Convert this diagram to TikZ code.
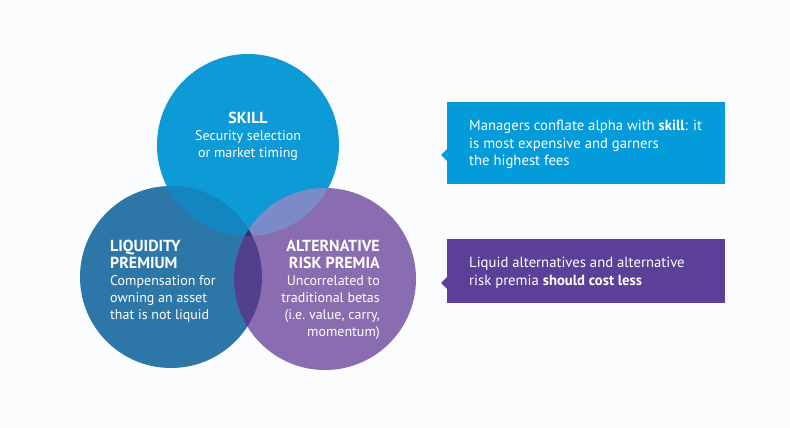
\documentclass[tikz,border=0pt]{standalone}
\usepackage{fontspec}
\setmainfont{PT Sans}
\definecolor{bgc}{HTML}{FBFCFE}
\definecolor{skillc}{HTML}{0E9AD7}
\definecolor{liqc}{HTML}{2C77A7}
\definecolor{arpc}{HTML}{8A6CB0}
\definecolor{slc}{HTML}{1386BF}
\definecolor{sac}{HTML}{7B8BC7}
\definecolor{lac}{HTML}{52408F}
\definecolor{slac}{HTML}{213E70}
\definecolor{boxa}{HTML}{039BD9}
\definecolor{boxb}{HTML}{5C3F98}
\newcommand{\hdr}[1]{{\fontsize{16}{17}\selectfont\bfseries #1}}
\begin{document}
\begin{tikzpicture}[x=1pt,y=-1pt,
  venn/.style={circle,minimum size=182pt,inner sep=0pt,outer sep=0pt},
  ctext/.style={text=white,inner sep=0pt,font=\fontsize{14}{17}\selectfont},
  callout/.style={anchor=north west,inner sep=0pt,outer sep=0pt,minimum width=278pt},
  btext/.style={text=white,inner sep=0pt,anchor=north west,align=left,font=\fontsize{14.7}{17.5}\selectfont}]
\fill[bgc] (0,0) rectangle (790,428);
\useasboundingbox (0,0) rectangle (790,428);
% circles
\node[venn,fill=skillc] (skill) at (248,145) {};
\node[venn,fill=liqc] (liq) at (171,277) {};
\node[venn,fill=arpc] (arp) at (325,279) {};
% pairwise overlaps
\begin{scope}
  \clip (248,145) circle (91);
  \fill[slc] (171,277) circle (91);
  \fill[sac] (325,279) circle (91);
\end{scope}
\begin{scope}
  \clip (171,277) circle (91);
  \fill[lac] (325,279) circle (91);
  \clip (325,279) circle (91);
  \fill[slac] (248,145) circle (91);
\end{scope}
% circle texts
\node[ctext,align=center,anchor=north] (skilltxt) at (248,112)
  {\hdr{SKILL}\\Security selection\\or market timing};
\node[ctext,align=left,anchor=north west] (liqtxt) at (110,240)
  {\hdr{LIQUIDITY}\\\hdr{PREMIUM}\\Compensation for\\owning an asset\\that is not liquid};
\node[ctext,align=right,anchor=north east] (arptxt) at (380,240)
  {\hdr{ALTERNATIVE}\\\hdr{RISK PREMIA}\\Uncorrelated to\\traditional betas\\(i.e.\ value, carry,\\momentum)};
% callouts
\node[callout,fill=boxa,minimum height=82pt] (boxone) at (447,102) {};
\fill[boxa] ([yshift=-6pt]boxone.west) -- ++(-6,6) -- ++(6,6) -- cycle;
\node[btext] (txtone) at (469,120)
  {Managers conflate alpha with \textbf{skill}: it\\is most expensive and garners\\the highest fees};
\node[callout,fill=boxb,minimum height=64pt] (boxtwo) at (447,239) {};
\fill[boxb] ([yshift=-6pt]boxtwo.west) -- ++(-6,6) -- ++(6,6) -- cycle;
\node[btext] (txttwo) at (469,257)
  {Liquid alternatives and alternative\\risk premia \textbf{should cost less}};
\end{tikzpicture}
\end{document}
